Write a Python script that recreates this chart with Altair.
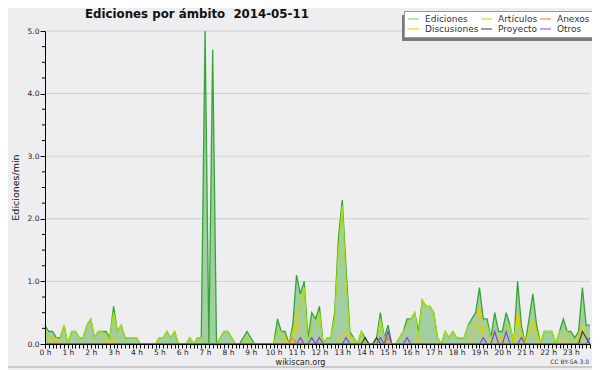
import json
import altair as alt
import pandas as pd

# ---------------- data (10-minute slots, edits per minute) ----------------
hour_labels = [f"{h} h" for h in range(24)]
slots = list(range(144))

ediciones = [
    0.3, 0.2, 0.2, 0.1, 0.1, 0.3,   # 0 h
    0.0, 0.2, 0.2, 0.1, 0.1, 0.3,   # 1 h
    0.4, 0.1, 0.2, 0.2, 0.2, 0.1,   # 2 h
    0.6, 0.2, 0.3, 0.1, 0.1, 0.1,   # 3 h
    0.1, 0.0, 0.0, 0.0, 0.0, 0.0,   # 4 h
    0.1, 0.1, 0.2, 0.1, 0.2, 0.0,   # 5 h
    0.0, 0.0, 0.1, 0.0, 0.1, 0.1,   # 6 h
    5.0, 0.0, 4.7, 0.0, 0.1, 0.2,   # 7 h
    0.2, 0.1, 0.0, 0.0, 0.1, 0.2,   # 8 h
    0.1, 0.0, 0.0, 0.0, 0.0, 0.0,   # 9 h
    0.0, 0.4, 0.2, 0.2, 0.0, 0.3,   # 10 h
    1.1, 0.8, 1.0, 0.1, 0.5, 0.4,   # 11 h
    0.6, 0.0, 0.1, 0.1, 0.5, 1.7,   # 12 h
    2.3, 1.2, 0.2, 0.1, 0.0, 0.2,   # 13 h
    0.1, 0.0, 0.0, 0.1, 0.5, 0.1,   # 14 h
    0.3, 0.0, 0.0, 0.1, 0.2, 0.4,   # 15 h
    0.4, 0.5, 0.2, 0.7, 0.6, 0.6,   # 16 h
    0.5, 0.1, 0.0, 0.2, 0.1, 0.2,   # 17 h
    0.1, 0.1, 0.1, 0.3, 0.4, 0.5,   # 18 h
    0.9, 0.4, 0.4, 0.1, 0.5, 0.2,   # 19 h
    0.2, 0.5, 0.3, 0.0, 1.0, 0.3,   # 20 h
    0.0, 0.4, 0.8, 0.3, 0.0, 0.2,   # 21 h
    0.2, 0.2, 0.0, 0.2, 0.4, 0.2,   # 22 h
    0.2, 0.1, 0.2, 0.9, 0.3, 0.3,   # 23 h
]

articulos = [
    0.2, 0.1, 0.1, 0.0, 0.1, 0.3,
    0.0, 0.2, 0.2, 0.1, 0.1, 0.3,
    0.4, 0.1, 0.2, 0.2, 0.1, 0.1,
    0.5, 0.2, 0.3, 0.1, 0.1, 0.1,
    0.1, 0.0, 0.0, 0.0, 0.0, 0.0,
    0.1, 0.1, 0.2, 0.1, 0.2, 0.0,
    0.0, 0.0, 0.1, 0.0, 0.1, 0.1,
    0.0, 0.0, 0.0, 0.0, 0.1, 0.2,
    0.2, 0.1, 0.0, 0.0, 0.0, 0.1,
    0.0, 0.0, 0.0, 0.0, 0.0, 0.0,
    0.0, 0.2, 0.2, 0.1, 0.0, 0.2,
    0.4, 0.6, 0.9, 0.0, 0.3, 0.3,
    0.5, 0.0, 0.1, 0.1, 0.4, 1.5,
    2.2, 1.0, 0.1, 0.1, 0.0, 0.2,
    0.0, 0.0, 0.0, 0.0, 0.4, 0.1,
    0.0, 0.0, 0.0, 0.1, 0.2, 0.3,
    0.4, 0.5, 0.1, 0.7, 0.6, 0.6,
    0.5, 0.1, 0.0, 0.2, 0.1, 0.2,
    0.1, 0.1, 0.1, 0.3, 0.3, 0.3,
    0.3, 0.2, 0.3, 0.1, 0.2, 0.1,
    0.1, 0.3, 0.3, 0.0, 0.5, 0.2,
    0.0, 0.2, 0.4, 0.2, 0.0, 0.2,
    0.2, 0.2, 0.0, 0.2, 0.2, 0.2,
    0.1, 0.0, 0.1, 0.2, 0.2, 0.2,
]

discusiones = [
    0.1, 0.1, 0.0, 0.1, 0.0, 0.0,
    0.0, 0.0, 0.0, 0.0, 0.0, 0.0,
    0.0, 0.0, 0.0, 0.0, 0.1, 0.0,
    0.1, 0.0, 0.0, 0.0, 0.0, 0.0,
    0.0, 0.0, 0.0, 0.0, 0.0, 0.0,
    0.0, 0.0, 0.0, 0.0, 0.0, 0.0,
    0.0, 0.0, 0.0, 0.0, 0.0, 0.0,
    0.0, 0.0, 0.0, 0.0, 0.0, 0.0,
    0.0, 0.0, 0.0, 0.0, 0.0, 0.0,
    0.0, 0.0, 0.0, 0.0, 0.0, 0.0,
    0.0, 0.0, 0.0, 0.1, 0.0, 0.0,
    0.5, 0.1, 0.0, 0.0, 0.0, 0.0,
    0.0, 0.0, 0.0, 0.0, 0.0, 0.1,
    0.1, 0.2, 0.1, 0.0, 0.0, 0.0,
    0.0, 0.0, 0.0, 0.0, 0.0, 0.0,
    0.0, 0.0, 0.0, 0.0, 0.0, 0.0,
    0.0, 0.0, 0.1, 0.0, 0.0, 0.0,
    0.0, 0.0, 0.0, 0.0, 0.0, 0.0,
    0.0, 0.0, 0.0, 0.0, 0.1, 0.2,
    0.6, 0.1, 0.1, 0.0, 0.0, 0.1,
    0.1, 0.0, 0.0, 0.0, 0.5, 0.0,
    0.0, 0.2, 0.4, 0.1, 0.0, 0.0,
    0.0, 0.0, 0.0, 0.0, 0.1, 0.0,
    0.0, 0.0, 0.1, 0.3, 0.0, 0.0,
]

anexos = [
    0.0, 0.0, 0.0, 0.0, 0.0, 0.0,
    0.0, 0.0, 0.0, 0.0, 0.0, 0.0,
    0.0, 0.0, 0.0, 0.0, 0.0, 0.0,
    0.0, 0.0, 0.0, 0.0, 0.0, 0.0,
    0.0, 0.0, 0.0, 0.0, 0.0, 0.0,
    0.0, 0.0, 0.0, 0.0, 0.0, 0.0,
    0.0, 0.0, 0.0, 0.0, 0.0, 0.0,
    0.0, 0.0, 0.0, 0.0, 0.0, 0.0,
    0.0, 0.0, 0.0, 0.0, 0.0, 0.0,
    0.0, 0.0, 0.0, 0.0, 0.0, 0.0,
    0.0, 0.0, 0.0, 0.0, 0.0, 0.1,
    0.0, 0.0, 0.0, 0.0, 0.0, 0.0,
    0.0, 0.0, 0.0, 0.0, 0.0, 0.0,
    0.0, 0.0, 0.0, 0.0, 0.0, 0.0,
    0.0, 0.0, 0.0, 0.0, 0.0, 0.0,
    0.1, 0.0, 0.0, 0.0, 0.0, 0.0,
    0.0, 0.0, 0.0, 0.0, 0.0, 0.0,
    0.0, 0.0, 0.0, 0.0, 0.0, 0.0,
    0.0, 0.0, 0.0, 0.0, 0.0, 0.0,
    0.0, 0.0, 0.0, 0.0, 0.0, 0.0,
    0.0, 0.0, 0.0, 0.0, 0.0, 0.0,
    0.0, 0.0, 0.0, 0.0, 0.0, 0.0,
    0.0, 0.0, 0.0, 0.0, 0.0, 0.0,
    0.0, 0.0, 0.0, 0.0, 0.0, 0.0,
]

proyecto = [
    0.0, 0.0, 0.0, 0.0, 0.0, 0.0,
    0.0, 0.0, 0.0, 0.0, 0.0, 0.0,
    0.0, 0.0, 0.0, 0.0, 0.0, 0.0,
    0.0, 0.0, 0.0, 0.0, 0.0, 0.0,
    0.0, 0.0, 0.0, 0.0, 0.0, 0.0,
    0.0, 0.0, 0.0, 0.0, 0.0, 0.0,
    0.0, 0.0, 0.0, 0.0, 0.0, 0.0,
    0.0, 0.0, 0.0, 0.0, 0.0, 0.0,
    0.0, 0.0, 0.0, 0.0, 0.0, 0.0,
    0.0, 0.0, 0.0, 0.0, 0.0, 0.0,
    0.0, 0.0, 0.0, 0.0, 0.0, 0.0,
    0.0, 0.0, 0.0, 0.0, 0.0, 0.0,
    0.0, 0.0, 0.0, 0.0, 0.0, 0.0,
    0.0, 0.0, 0.0, 0.0, 0.0, 0.0,
    0.1, 0.0, 0.0, 0.1, 0.0, 0.0,
    0.0, 0.0, 0.0, 0.0, 0.0, 0.0,
    0.0, 0.0, 0.0, 0.0, 0.0, 0.0,
    0.0, 0.0, 0.0, 0.0, 0.0, 0.0,
    0.0, 0.0, 0.0, 0.0, 0.0, 0.0,
    0.0, 0.0, 0.0, 0.0, 0.0, 0.0,
    0.0, 0.0, 0.0, 0.0, 0.0, 0.0,
    0.0, 0.0, 0.0, 0.0, 0.0, 0.0,
    0.0, 0.0, 0.0, 0.0, 0.0, 0.0,
    0.0, 0.0, 0.0, 0.2, 0.1, 0.0,
]

otros = [
    0.0, 0.0, 0.0, 0.0, 0.0, 0.0,
    0.0, 0.0, 0.0, 0.0, 0.0, 0.0,
    0.0, 0.0, 0.0, 0.0, 0.0, 0.0,
    0.0, 0.0, 0.0, 0.0, 0.0, 0.0,
    0.0, 0.0, 0.0, 0.0, 0.0, 0.0,
    0.0, 0.0, 0.0, 0.0, 0.0, 0.0,
    0.0, 0.0, 0.0, 0.0, 0.0, 0.0,
    0.0, 0.0, 0.0, 0.0, 0.0, 0.0,
    0.0, 0.0, 0.0, 0.0, 0.0, 0.0,
    0.0, 0.0, 0.0, 0.0, 0.0, 0.0,
    0.0, 0.0, 0.0, 0.0, 0.0, 0.0,
    0.0, 0.1, 0.0, 0.0, 0.1, 0.0,
    0.1, 0.0, 0.0, 0.0, 0.0, 0.0,
    0.0, 0.1, 0.0, 0.0, 0.0, 0.0,
    0.0, 0.0, 0.0, 0.0, 0.1, 0.0,
    0.2, 0.0, 0.0, 0.0, 0.0, 0.1,
    0.0, 0.0, 0.0, 0.0, 0.0, 0.0,
    0.0, 0.0, 0.0, 0.0, 0.0, 0.0,
    0.0, 0.0, 0.0, 0.0, 0.0, 0.0,
    0.0, 0.1, 0.0, 0.0, 0.2, 0.0,
    0.0, 0.2, 0.0, 0.0, 0.0, 0.1,
    0.0, 0.0, 0.0, 0.0, 0.0, 0.0,
    0.0, 0.0, 0.0, 0.0, 0.0, 0.0,
    0.0, 0.0, 0.0, 0.0, 0.0, 0.1,
]

# legend order (filled column by column: 2 rows x 3 columns)
series_names = ["Ediciones", "Discusiones", "Artículos", "Proyecto", "Anexos", "Otros"]
series_colors = ["#7cc87c", "#f5c800", "#a8e010", "#3a3a3a", "#ff6a3a", "#8a3cf0"]

y_major = [0, 1, 2, 3, 4, 5]
y_minor = [0.25, 0.5, 0.75, 1.25, 1.5, 1.75, 2.25, 2.5, 2.75,
           3.25, 3.5, 3.75, 4.25, 4.5, 4.75]

title_text = "Ediciones por ámbito\u00a0 2014-05-11"
FONT = "DejaVu Sans"

# ---------------- tables ----------------
df_ed = pd.DataFrame({"slot": slots, "value": ediciones})
df_art = pd.DataFrame({"slot": slots, "value": articulos, "serie": "Artículos"})
others = []
for name, vals in [("Anexos", anexos), ("Discusiones", discusiones),
                   ("Proyecto", proyecto), ("Otros", otros)]:
    others.append(pd.DataFrame({"slot": slots, "value": vals, "serie": name}))
df_oth = pd.concat(others, ignore_index=True)
df_grid = pd.DataFrame({"v": y_major[1:]})
df_minor = pd.DataFrame({"v": y_minor})
df_one = pd.DataFrame({"k": [0]})

xscale = alt.Scale(domain=[0, 143], nice=False, zero=False)
yscale = alt.Scale(domain=[0, 5], nice=False)

label_expr = f"datum.value % 6 == 0 ? {json.dumps(hour_labels)}[datum.value / 6] : ''"

x_axis = alt.Axis(values=slots, labelExpr=label_expr, tickSize=4, tickColor="black",
                  domainColor="black", labelFontSize=7.5, labelColor="#222",
                  labelFlush=False, labelOverlap=False, labelPadding=0, grid=False,
                  title="wikiscan.org", titleFontSize=8, titleFontWeight="normal",
                  titleColor="#222", titleX=255, titleY=18, titleBaseline="middle",
                  titleAlign="center", zindex=2)
y_axis = alt.Axis(values=y_major, format=".1f", tickSize=5, tickColor="black",
                  domainColor="black", labelFontSize=7.5, labelColor="#222",
                  labelPadding=1, grid=False, title="Ediciones/min", titleFontSize=9.5,
                  titleFontWeight="normal", titleColor="#111", titleX=-30, titleY=156,
                  titleAlign="center", titleBaseline="middle", zindex=2)

legend = alt.Legend(orient="none", legendX=359, legendY=-20, columns=3, title=None,
                    symbolType="stroke", symbolSize=121, symbolStrokeWidth=1.2,
                    labelFont=FONT, labelFontSize=9, labelColor="#333", labelOffset=5,
                    gridAlign="each", columnPadding=1, rowPadding=0, clipHeight=10,
                    padding=3, fillColor="white", strokeColor="#999999", cornerRadius=0)
color = alt.Color("serie:N", scale=alt.Scale(domain=series_names, range=series_colors),
                  legend=legend)

frame = alt.Chart(df_one).mark_rule(color="#a8a8a8", strokeWidth=1).encode(
    x=alt.value(-37), x2=alt.value(547), y=alt.value(336))

grid = alt.Chart(df_grid).mark_rule(color="#cfcfd2", strokeWidth=1).encode(
    y=alt.Y("v:Q", scale=yscale, axis=y_axis), x=alt.value(0), x2=alt.value(545))

area = alt.Chart(df_ed).mark_area(
    color="#a2cea2", opacity=1,
    line={"color": "#35a635", "strokeWidth": 1.3}).encode(
    x=alt.X("slot:Q", scale=xscale, axis=x_axis),
    y=alt.Y("value:Q", scale=yscale, axis=y_axis))

art = alt.Chart(df_art).mark_line(strokeWidth=1.3).encode(
    x=alt.X("slot:Q", scale=xscale, axis=x_axis),
    y=alt.Y("value:Q", scale=yscale, axis=y_axis), color=color)

oth = alt.Chart(df_oth).mark_line(strokeWidth=1.2).encode(
    x=alt.X("slot:Q", scale=xscale, axis=x_axis),
    y=alt.Y("value:Q", scale=yscale, axis=y_axis), color=color, detail="serie:N")

minor = alt.Chart(df_minor).mark_rule(color="black", strokeWidth=1).encode(
    y=alt.Y("v:Q", scale=yscale, axis=y_axis), x=alt.value(-3), x2=alt.value(0))

shadow = alt.Chart(df_one).mark_rect(color="#7a7a7a").encode(
    x=alt.value(357), x2=alt.value(550), y=alt.value(-16), y2=alt.value(10))

title = alt.Chart(df_one).mark_text(
    text=title_text, font=FONT, fontSize=11.8, fontWeight="bold", align="left",
    baseline="alphabetic", color="#111").encode(x=alt.value(40), y=alt.value(-13.5))

cc = alt.Chart(df_one).mark_text(
    text="CC BY-SA 3.0", font=FONT, fontSize=6, align="right", baseline="middle",
    color="#333").encode(x=alt.value(544), y=alt.value(331))

chart = alt.layer(frame, grid, area, art, oth, minor, shadow, title, cc).properties(
    width=545, height=313,
    padding={"left": 37, "top": 23, "right": 2, "bottom": 26},
    autosize=alt.AutoSizeParams(type="none"),
    background="#eeeef0",
).configure_view(stroke=None).configure_axis(labelFont=FONT, titleFont=FONT)

chart.save("out.html", embed_options={"renderer": "svg", "actions": False})
